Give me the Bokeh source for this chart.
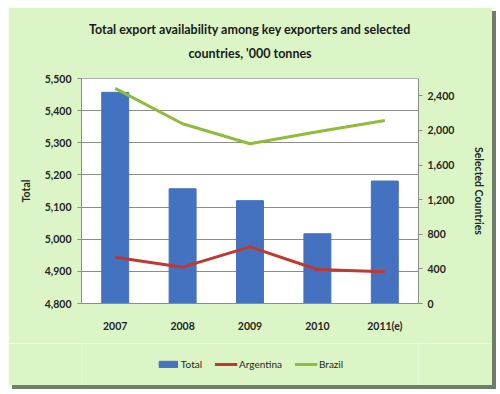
from bokeh.plotting import figure
from bokeh.models import (Range1d, LinearAxis, FixedTicker, NumeralTickFormatter,
                          Legend, LegendItem, Title, ColumnDataSource, FactorRange)
from bokeh.layouts import column
from bokeh.embed import file_html
from bokeh.resources import INLINE

years = ["2007", "2008", "2009", "2010", "2011(e)"]
total = [5457, 5157, 5120, 5017, 5181]
argentina = [535, 420, 655, 393, 366]
brazil = [2485, 2077, 1846, 1985, 2115]

left_ticks = [4800, 4900, 5000, 5100, 5200, 5300, 5400, 5500]
right_ticks = [0, 400, 800, 1200, 1600, 2000, 2400]

FONT = "Lato"
TXT = "#262626"
BG = "#dbf5c6"
BLUE, RED, GREEN = "#4472c0", "#c0392f", "#8fbc3a"

src = ColumnDataSource(dict(year=years, total=total, arg=argentina, bra=brazil))

p = figure(x_range=FactorRange(*years), y_range=Range1d(4800, 5500),
           width=484, height=336, output_backend="svg", toolbar_location=None,
           min_border_left=73, min_border_right=74, min_border_top=71,
           min_border_bottom=40)
p.extra_y_ranges = {"right": Range1d(0, 2600)}

p.border_fill_color = BG
p.background_fill_color = "white"
p.outline_line_color = "#b0b0b0"

spacer = Title(text=" ", text_font_size="1px", standoff=15)
t2 = Title(text="countries, '000 tonnes", align="center", text_font=FONT,
           text_font_size="12.5px", text_font_style="bold", text_color="#1a1a1a",
           standoff=0)
t1 = Title(text="Total export availability among key exporters and selected",
           align="center", text_font=FONT, text_font_size="12.5px",
           text_font_style="bold", text_color="#1a1a1a", standoff=14)
p.add_layout(spacer, "above")
p.add_layout(t2, "above")
p.add_layout(t1, "above")

p.vbar(x="year", top="total", bottom=4800, width=0.4, source=src,
       fill_color=BLUE, line_color=BLUE)
p.line(x="year", y="arg", source=src, y_range_name="right",
       line_color=RED, line_width=3)
p.line(x="year", y="bra", source=src, y_range_name="right",
       line_color=GREEN, line_width=3)

yl = p.yaxis[0]
yl.ticker = FixedTicker(ticks=left_ticks)
yl.formatter = NumeralTickFormatter(format="0,0")
yl.axis_label = "Total"

yr = LinearAxis(y_range_name="right", ticker=FixedTicker(ticks=right_ticks),
                formatter=NumeralTickFormatter(format="0,0"),
                axis_label="Selected Countries")
p.add_layout(yr, "right")

for ax in [yl, yr, p.xaxis[0]]:
    ax.major_label_text_font = FONT
    ax.major_label_text_font_style = "bold"
    ax.major_label_text_font_size = "10.5px"
    ax.major_label_text_color = TXT
    ax.axis_label_text_font = FONT
    ax.axis_label_text_font_style = "bold"
    ax.axis_label_text_font_size = "10.5px"
    ax.axis_label_text_color = TXT
    ax.axis_line_color = "#8c8c8c"
    ax.major_tick_line_color = "#8c8c8c"
    ax.major_tick_out = 4
    ax.major_tick_in = 0
    ax.minor_tick_line_color = None

yl.major_label_standoff = 6
yl.axis_label_standoff = 10
yr.major_label_standoff = 5
yr.axis_label_standoff = 16
p.xaxis[0].major_label_standoff = 12
p.xaxis[0].major_tick_line_color = None

p.xgrid.grid_line_color = None
p.ygrid.grid_line_color = "#8c8c8c"
p.ygrid.grid_line_width = 1

# legend strip: same series as hidden renderers, so only the key is shown
leg = figure(x_range=p.x_range, y_range=Range1d(4800, 5500), width=484, height=42,
             output_backend="svg", toolbar_location=None,
             x_axis_type=None, y_axis_type=None, min_border=0)
leg.border_fill_color = BG
leg.background_fill_color = BG
leg.outline_line_color = None
leg.xgrid.visible = False
leg.ygrid.visible = False
lbar = leg.vbar(x="year", top="total", bottom=4800, width=0.4, source=src,
                fill_color=BLUE, line_color=BLUE, visible=False)
larg = leg.line(x="year", y="arg", source=src, line_color=RED, line_width=3,
                visible=False)
lbra = leg.line(x="year", y="bra", source=src, line_color=GREEN, line_width=3,
                visible=False)

legend = Legend(items=[LegendItem(label="Total", renderers=[lbar]),
                       LegendItem(label="Argentina", renderers=[larg]),
                       LegendItem(label="Brazil", renderers=[lbra])],
                orientation="horizontal", location="center",
                background_fill_alpha=0, border_line_color=None,
                inactive_fill_alpha=0,
                label_text_font=FONT, label_text_font_size="10px",
                label_text_color=TXT, glyph_width=23, glyph_height=8,
                label_height=12, spacing=12, label_standoff=2, margin=0, padding=0)
leg.add_layout(legend, "center")

lay = column(p, leg, spacing=0)
lay.styles = {"box-shadow": "4px 4px 0px #6f7e6b", "margin-left": "8px",
              "margin-top": "7px"}

open("out.html", "w").write(file_html(lay, INLINE))
